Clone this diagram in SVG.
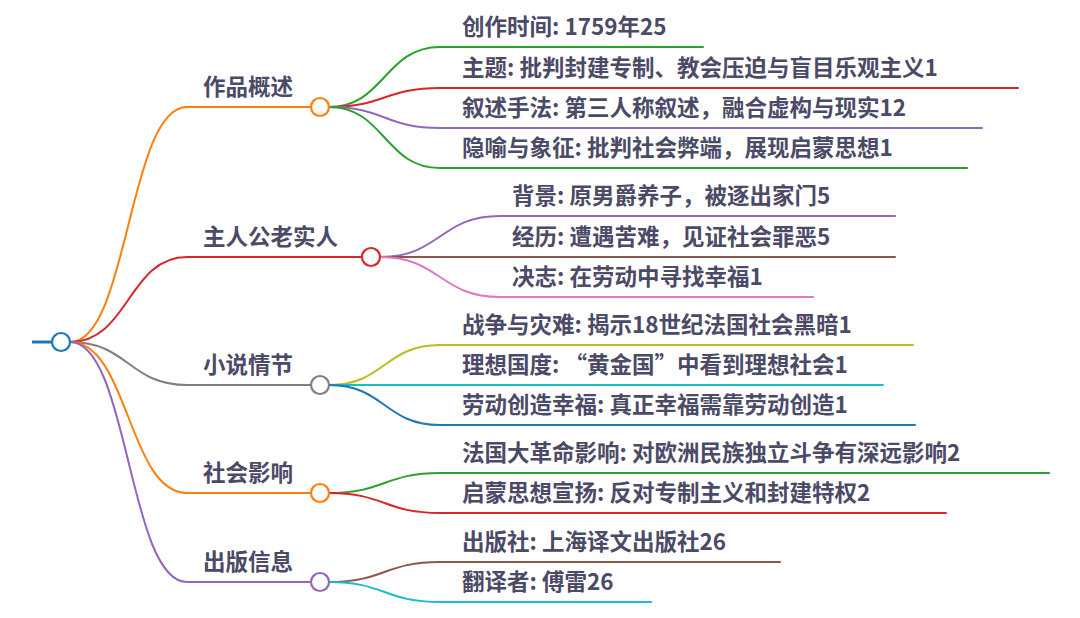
<svg xmlns="http://www.w3.org/2000/svg" width="1080" height="618" viewBox="0 0 1080 618">
<style>
  .t { font-family: "Noto Sans CJK SC", "Noto Sans", "Liberation Sans", sans-serif; font-weight: 700; font-size: 22.5px; fill: #4b4a67; }
  .ln { fill: none; stroke-width: 2; stroke-linecap: round; }
  .nd { fill: #ffffff; stroke-width: 2.2; }
  .c-blue { stroke: #1f77b4; }
  .c-orange { stroke: #ff7f0e; }
  .c-green { stroke: #2ca02c; }
  .c-red { stroke: #d62728; }
  .c-purple { stroke: #9467bd; }
  .c-brown { stroke: #8c564b; }
  .c-pink { stroke: #e377c2; }
  .c-gray { stroke: #7f7f7f; }
  .c-olive { stroke: #bcbd22; }
  .c-cyan { stroke: #17becf; }
</style>
<rect width="1080" height="618" fill="#ffffff"/>

<g id="connectors">
  <!-- root to level 1 -->
  <path class="ln c-orange" d="M70,342 C128.5,342 128.5,107 187,107"/>
  <path class="ln c-red" d="M70,342 C128.5,342 128.5,257 187,257"/>
  <path class="ln c-gray" d="M70,342 C128.5,342 128.5,385 187,385"/>
  <path class="ln c-orange" d="M70,342 C128.5,342 128.5,493 187,493"/>
  <path class="ln c-purple" d="M70,342 C128.5,342 128.5,582 187,582"/>
  <!-- 作品概述 children -->
  <path class="ln c-green" d="M329,107 C384.5,107 384.5,47 440,47"/>
  <path class="ln c-red" d="M329,107 C384.5,107 384.5,88 440,88"/>
  <path class="ln c-purple" d="M329,107 C384.5,107 384.5,128 440,128"/>
  <path class="ln c-green" d="M329,107 C384.5,107 384.5,168 440,168"/>
  <!-- 主人公老实人 children -->
  <path class="ln c-purple" d="M380,257 C440,257 440,216 500,216"/>
  <path class="ln c-brown" d="M380,257 L500,257"/>
  <path class="ln c-pink" d="M380,257 C440,257 440,297 500,297"/>
  <!-- 小说情节 children -->
  <path class="ln c-olive" d="M329,385 C384.5,385 384.5,345 440,345"/>
  <path class="ln c-cyan" d="M329,385 L440,385"/>
  <path class="ln c-blue" d="M329,385 C384.5,385 384.5,425 440,425"/>
  <!-- 社会影响 children -->
  <path class="ln c-green" d="M329,493 C384.5,493 384.5,473 440,473"/>
  <path class="ln c-red" d="M329,493 C384.5,493 384.5,513 440,513"/>
  <!-- 出版信息 children -->
  <path class="ln c-brown" d="M329,582 C384.5,582 384.5,562 440,562"/>
  <path class="ln c-cyan" d="M329,582 C384.5,582 384.5,602 440,602"/>
</g>

<g id="root">
  <line x1="32" y1="342" x2="52" y2="342" stroke="#1f77b4" stroke-width="3"/>
  <circle class="nd c-blue" cx="61" cy="342" r="9" stroke-width="2.5"/>
</g>

<g id="n-zuopin">
  <line class="ln c-orange" x1="187" y1="107" x2="311" y2="107"/>
  <text class="t" x="203" y="95">作品概述</text>
  <circle class="nd c-orange" cx="320" cy="107" r="9"/>
</g>
<g id="n-zhurengong">
  <line class="ln c-red" x1="187" y1="257" x2="362" y2="257"/>
  <text class="t" x="203" y="245">主人公老实人</text>
  <circle class="nd c-red" cx="371" cy="257" r="9"/>
</g>
<g id="n-qingjie">
  <line class="ln c-gray" x1="187" y1="385" x2="311" y2="385"/>
  <text class="t" x="203" y="373">小说情节</text>
  <circle class="nd c-gray" cx="320" cy="385" r="9"/>
</g>
<g id="n-yingxiang">
  <line class="ln c-orange" x1="187" y1="493" x2="311" y2="493"/>
  <text class="t" x="203" y="481">社会影响</text>
  <circle class="nd c-orange" cx="320" cy="493" r="9"/>
</g>
<g id="n-chuban">
  <line class="ln c-purple" x1="187" y1="582" x2="311" y2="582"/>
  <text class="t" x="203" y="570">出版信息</text>
  <circle class="nd c-purple" cx="320" cy="582" r="9"/>
</g>

<g id="l-chuangzuo">
  <line class="ln c-green" x1="440" y1="47" x2="703" y2="47"/>
  <text class="t" x="462" y="35">创作时间: 1759年25</text>
</g>
<g id="l-zhuti">
  <line class="ln c-red" x1="440" y1="88" x2="1018" y2="88"/>
  <text class="t" x="462" y="76">主题: 批判封建专制、教会压迫与盲目乐观主义1</text>
</g>
<g id="l-xushu">
  <line class="ln c-purple" x1="440" y1="128" x2="982" y2="128"/>
  <text class="t" x="462" y="116">叙述手法: 第三人称叙述，融合虚构与现实12</text>
</g>
<g id="l-yinyu">
  <line class="ln c-green" x1="440" y1="168" x2="967" y2="168"/>
  <text class="t" x="462" y="156">隐喻与象征: 批判社会弊端，展现启蒙思想1</text>
</g>

<g id="l-beijing">
  <line class="ln c-purple" x1="500" y1="216" x2="895" y2="216"/>
  <text class="t" x="512" y="204">背景: 原男爵养子，被逐出家门5</text>
</g>
<g id="l-jingli">
  <line class="ln c-brown" x1="500" y1="257" x2="895" y2="257"/>
  <text class="t" x="512" y="245">经历: 遭遇苦难，见证社会罪恶5</text>
</g>
<g id="l-juezhi">
  <line class="ln c-pink" x1="500" y1="297" x2="813" y2="297"/>
  <text class="t" x="512" y="285">决志: 在劳动中寻找幸福1</text>
</g>

<g id="l-zhanzheng">
  <line class="ln c-olive" x1="440" y1="345" x2="913" y2="345"/>
  <text class="t" x="462" y="333">战争与灾难: 揭示18世纪法国社会黑暗1</text>
</g>
<g id="l-lixiang">
  <line class="ln c-cyan" x1="440" y1="385" x2="883" y2="385"/>
  <text class="t" x="462" y="373">理想国度: “黄金国”中看到理想社会1</text>
</g>
<g id="l-laodong">
  <line class="ln c-blue" x1="440" y1="425" x2="915" y2="425"/>
  <text class="t" x="462" y="413">劳动创造幸福: 真正幸福需靠劳动创造1</text>
</g>

<g id="l-geming">
  <line class="ln c-green" x1="440" y1="473" x2="1049" y2="473"/>
  <text class="t" x="462" y="461">法国大革命影响: 对欧洲民族独立斗争有深远影响2</text>
</g>
<g id="l-qimeng">
  <line class="ln c-red" x1="440" y1="513" x2="946" y2="513"/>
  <text class="t" x="462" y="501">启蒙思想宣扬: 反对专制主义和封建特权2</text>
</g>

<g id="l-chubanshe">
  <line class="ln c-brown" x1="440" y1="562" x2="780" y2="562"/>
  <text class="t" x="462" y="550">出版社: 上海译文出版社26</text>
</g>
<g id="l-fanyi">
  <line class="ln c-cyan" x1="440" y1="602" x2="651" y2="602"/>
  <text class="t" x="462" y="590">翻译者: 傅雷26</text>
</g>
</svg>
